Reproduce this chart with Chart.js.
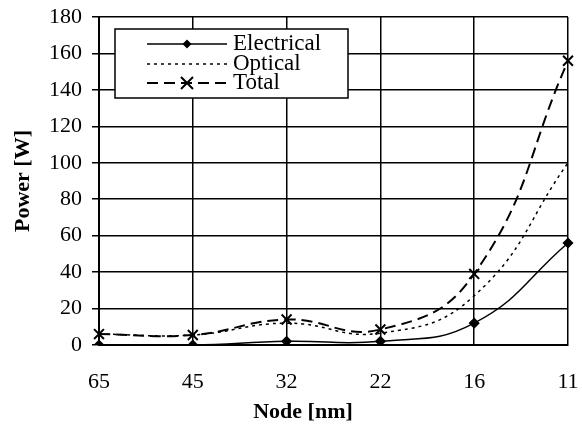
<!DOCTYPE html>
<html>
<head>
<meta charset="utf-8">
<script src="https://cdn.jsdelivr.net/npm/chart.js@4/dist/chart.umd.min.js"></script>
<style>
  html, body { margin: 0; padding: 0; background: #fff; }
  #wrap { width: 582px; height: 427px; }
</style>
</head>
<body>
<div id="wrap"><canvas id="myChart" width="582" height="427"></canvas></div>
<script>
/* DATA */
const nodes = ['65', '45', '32', '22', '16', '11'];
const electrical = [0, 0, 2, 2, 12, 56];
const optical = [6, 5.5, 12, 6.5, 27, 100];
const total = [6, 5.5, 14, 8.5, 39, 156];
const powerTicks = [0, 20, 40, 60, 80, 100, 120, 140, 160, 180];

const serif = "'Liberation Serif', 'Times New Roman', serif";

/* legend box inside the plot + x title (original title is not centred on the plot) */
const boxLegend = {
  id: 'boxLegend',
  afterDraw(chart) {
    const ctx = chart.ctx;
    ctx.save();

    // x title
    ctx.fillStyle = '#000';
    ctx.textAlign = 'center';
    ctx.textBaseline = 'middle';
    ctx.font = 'bold 22px ' + serif;
    ctx.fillText('Node [nm]', 303, 412);

    // legend box
    const bx = 115, by = 29, bw = 233, bh = 69;
    ctx.fillStyle = '#fff';
    ctx.fillRect(bx, by, bw, bh);
    ctx.strokeStyle = '#000';
    ctx.lineWidth = 1.5;
    ctx.strokeRect(bx, by, bw, bh);

    const rows = [44, 64, 83];
    chart.data.datasets.forEach(function (ds, i) {
      const y = rows[i];
      ctx.beginPath();
      ctx.setLineDash(ds.borderDash || []);
      ctx.lineWidth = ds.borderWidth;
      ctx.strokeStyle = '#000';
      ctx.moveTo(147, y);
      ctx.lineTo(227, y);
      ctx.stroke();
      ctx.setLineDash([]);
      if (ds.pointStyle === 'rectRot') {
        const r = 4.5;
        ctx.beginPath();
        ctx.moveTo(187, y - r);
        ctx.lineTo(187 + r, y);
        ctx.lineTo(187, y + r);
        ctx.lineTo(187 - r, y);
        ctx.closePath();
        ctx.fillStyle = '#000';
        ctx.fill();
      } else if (ds.pointStyle === 'crossRot') {
        const r = 6;
        ctx.lineWidth = 2;
        ctx.beginPath();
        ctx.moveTo(187 - r, y - r);
        ctx.lineTo(187 + r, y + r);
        ctx.moveTo(187 + r, y - r);
        ctx.lineTo(187 - r, y + r);
        ctx.stroke();
      }
      ctx.fillStyle = '#000';
      ctx.font = '23px ' + serif;
      ctx.textAlign = 'left';
      ctx.textBaseline = 'middle';
      ctx.fillText(ds.label, 233, y);
    });
    ctx.restore();
  }
};

const ctx = document.getElementById('myChart');

new Chart(ctx, {
  type: 'line',
  data: {
    labels: nodes,
    datasets: [
      {
        label: 'Electrical',
        data: electrical,
        borderColor: '#000',
        backgroundColor: '#000',
        borderWidth: 1.5,
        pointStyle: 'rectRot',
        pointRadius: 4.5,
        tension: 0.45
      },
      {
        label: 'Optical',
        data: optical,
        borderColor: '#000',
        backgroundColor: '#000',
        borderWidth: 1.5,
        borderDash: [3, 4],
        pointRadius: 0,
        tension: 0.45
      },
      {
        label: 'Total',
        data: total,
        borderColor: '#000',
        backgroundColor: '#000',
        borderWidth: 2,
        borderDash: [11, 6],
        pointStyle: 'crossRot',
        pointRadius: 7,
        pointBorderWidth: 2,
        tension: 0.45
      }
    ]
  },
  options: {
    responsive: false,
    animation: false,
    layout: {
      padding: { top: 17, right: 14, left: 0, bottom: 0 }
    },
    scales: {
      x: {
        offset: false,
        afterFit: function (scale) {
          scale.height = 82;
          scale.paddingLeft = 0;
          scale.paddingRight = 0;
        },
        grid: { color: '#000', lineWidth: 1.5, drawTicks: false },
        border: { color: '#000', width: 2 },
        ticks: {
          color: '#000',
          padding: 24,
          maxRotation: 0,
          font: { family: serif, size: 22 }
        }
      },
      y: {
        min: 0,
        max: 180,
        afterFit: function (scale) {
          scale.width = 99;
          scale.paddingTop = 0;
          scale.paddingBottom = 0;
        },
        afterBuildTicks: function (scale) {
          scale.ticks = powerTicks.map(function (v) { return { value: v }; });
        },
        grid: { color: '#000', lineWidth: 1.5, drawTicks: true, tickLength: 7 },
        border: { color: '#000', width: 2 },
        ticks: {
          color: '#000',
          padding: 10,
          font: { family: serif, size: 22 }
        },
        title: {
          display: true,
          text: 'Power [W]',
          color: '#000',
          padding: { top: 10, bottom: 0 },
          font: { family: serif, size: 22, weight: 'bold' }
        }
      }
    },
    plugins: {
      legend: { display: false },
      tooltip: { enabled: false }
    }
  },
  plugins: [boxLegend]
});
</script>
</body>
</html>
